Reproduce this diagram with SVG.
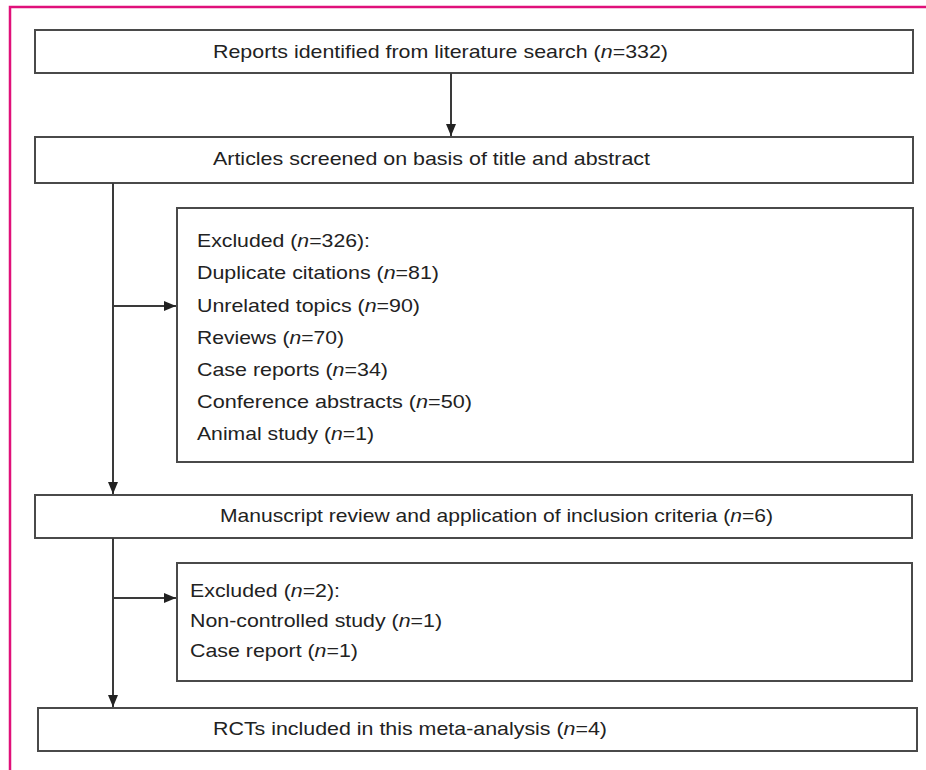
<svg xmlns="http://www.w3.org/2000/svg" width="926" height="770" viewBox="0 0 926 770">
<style>
.box{fill:#fff;stroke:#4a4a4a;stroke-width:2}
.t{font-family:"Liberation Sans",Arial,sans-serif;font-size:19px;fill:#222}
.ln{stroke:#3a3a3a;stroke-width:2;fill:none}
.frame{stroke:#e0107a;stroke-width:2.5;fill:none}
</style>
<defs>
<marker id="ah" viewBox="0 0 12 10" refX="12" refY="5" markerWidth="12" markerHeight="10" markerUnits="userSpaceOnUse" orient="auto">
<path d="M0,0 L12,5 L0,10 Z" fill="#222"/>
</marker>
</defs>
<rect width="926" height="770" fill="#fff"/>
<path class="frame" d="M10,770 L10,7 L926,7"/>
<g id="n1"><rect class="box" x="35" y="30" width="878" height="43"/>
<text class="t" x="213" y="58" textLength="455" lengthAdjust="spacingAndGlyphs">Reports identified from literature search (<tspan font-style="italic">n</tspan>=332)</text></g>
<g id="n2"><rect class="box" x="35" y="137" width="878" height="46"/>
<text class="t" x="213" y="165" textLength="437" lengthAdjust="spacingAndGlyphs">Articles screened on basis of title and abstract</text></g>
<g id="n3"><rect class="box" x="177" y="208" width="736" height="254"/>
<text class="t" x="197" y="247" textLength="173" lengthAdjust="spacingAndGlyphs">Excluded (<tspan font-style="italic">n</tspan>=326):</text>
<text class="t" x="197" y="279" textLength="242" lengthAdjust="spacingAndGlyphs">Duplicate citations (<tspan font-style="italic">n</tspan>=81)</text>
<text class="t" x="197" y="312" textLength="223" lengthAdjust="spacingAndGlyphs">Unrelated topics (<tspan font-style="italic">n</tspan>=90)</text>
<text class="t" x="197" y="344" textLength="147" lengthAdjust="spacingAndGlyphs">Reviews (<tspan font-style="italic">n</tspan>=70)</text>
<text class="t" x="197" y="376" textLength="191" lengthAdjust="spacingAndGlyphs">Case reports (<tspan font-style="italic">n</tspan>=34)</text>
<text class="t" x="197" y="408" textLength="275" lengthAdjust="spacingAndGlyphs">Conference abstracts (<tspan font-style="italic">n</tspan>=50)</text>
<text class="t" x="197" y="440" textLength="177" lengthAdjust="spacingAndGlyphs">Animal study (<tspan font-style="italic">n</tspan>=1)</text></g>
<g id="n4"><rect class="box" x="35" y="495" width="877" height="43"/>
<text class="t" x="220" y="522" textLength="553" lengthAdjust="spacingAndGlyphs">Manuscript review and application of inclusion criteria (<tspan font-style="italic">n</tspan>=6)</text></g>
<g id="n5"><rect class="box" x="177" y="563" width="735" height="118"/>
<text class="t" x="190" y="597" textLength="150" lengthAdjust="spacingAndGlyphs">Excluded (<tspan font-style="italic">n</tspan>=2):</text>
<text class="t" x="190" y="627" textLength="252" lengthAdjust="spacingAndGlyphs">Non-controlled study (<tspan font-style="italic">n</tspan>=1)</text>
<text class="t" x="190" y="657" textLength="168" lengthAdjust="spacingAndGlyphs">Case report (<tspan font-style="italic">n</tspan>=1)</text></g>
<g id="n6"><rect class="box" x="38" y="708" width="879" height="43"/>
<text class="t" x="213" y="735" textLength="394" lengthAdjust="spacingAndGlyphs">RCTs included in this meta-analysis (<tspan font-style="italic">n</tspan>=4)</text></g>
<g id="connectors">
<line class="ln" x1="451" y1="73" x2="451" y2="136" marker-end="url(#ah)"/>
<line class="ln" x1="113" y1="183" x2="113" y2="494" marker-end="url(#ah)"/>
<line class="ln" x1="113" y1="306" x2="176" y2="306" marker-end="url(#ah)"/>
<line class="ln" x1="113" y1="538" x2="113" y2="707" marker-end="url(#ah)"/>
<line class="ln" x1="113" y1="598" x2="176" y2="598" marker-end="url(#ah)"/>
</g>
</svg>
